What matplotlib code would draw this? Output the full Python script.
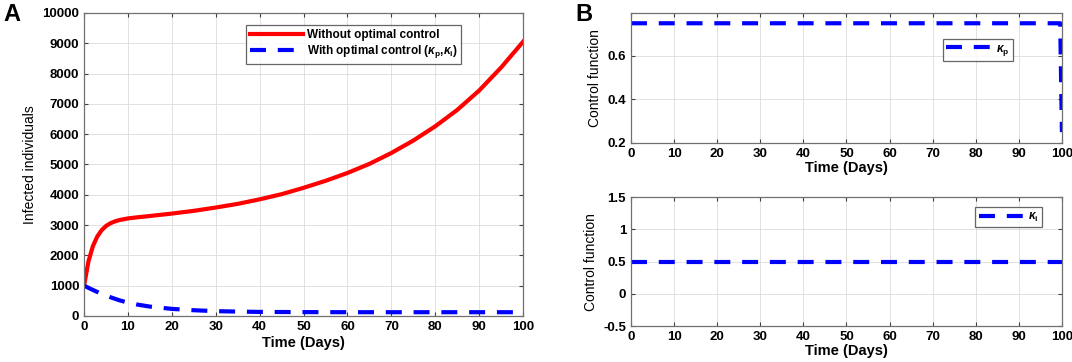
import matplotlib
matplotlib.use("Agg")
import matplotlib.pyplot as plt
import numpy as np

plt.rcParams['font.family'] = ['Liberation Sans', 'DejaVu Sans']
plt.rcParams['mathtext.fontset'] = 'custom'
plt.rcParams['mathtext.it'] = 'Liberation Sans:italic:bold'
plt.rcParams['mathtext.rm'] = 'Liberation Sans:bold'
plt.rcParams['lines.scale_dashes'] = False

# Panel A data
t_a = [0, 1, 2, 3, 4, 5, 6, 7, 8, 10, 12, 15, 20, 25, 30, 35, 40, 45, 50, 55,
       60, 65, 70, 75, 80, 85, 90, 95, 100]
no_control = [1000, 1800, 2300, 2620, 2830, 2970, 3060, 3120, 3165, 3220, 3255,
              3300, 3380, 3470, 3580, 3700, 3850, 4020, 4230, 4460, 4720, 5020,
              5380, 5790, 6260, 6800, 7440, 8200, 9050]
t_b = [0, 2, 4, 6, 8, 10, 12, 15, 20, 25, 30, 35, 40, 50, 60, 70, 80, 90, 100]
with_control = [1000, 860, 730, 620, 520, 440, 380, 310, 235, 190, 160, 145,
                135, 128, 125, 125, 125, 125, 125]

# Panel B data
t_kp = [0, 99.6, 100]
kappa_p = [0.75, 0.75, 0.25]
t_ki = [0, 100]
kappa_i = [0.5, 0.5]

fig = plt.figure(figsize=(10.72, 3.62), dpi=100)

axA = fig.add_axes([0.0784, 0.1271, 0.4095, 0.837])
axB1 = fig.add_axes([0.5886, 0.605, 0.402, 0.359])
axB2 = fig.add_axes([0.5886, 0.0994, 0.402, 0.356])

dash = (0, (11.5, 8.5))
leg_kw = dict(fancybox=False, edgecolor='#404040', borderpad=0.3,
              handletextpad=0.3, borderaxespad=0)

axA.plot(t_a, no_control, color='#ff0000', lw=3.0, label='Without optimal control')
axA.plot(t_b, with_control, color='#0000ff', lw=3.0, linestyle=dash,
         label=r'With optimal control ($\kappa_{\mathrm{p}}$,$\kappa_{\mathrm{i}}$)')
axA.set_xlim(0, 100)
axA.set_ylim(0, 10000)
axA.set_xticks(np.arange(0, 101, 10))
axA.set_yticks(np.arange(0, 10001, 1000))
axA.set_xlabel('Time (Days)', fontsize=10.5, fontweight='bold', labelpad=2)
axA.set_ylabel('Infected individuals', fontsize=10, labelpad=4)
axA.legend(loc='upper left', bbox_to_anchor=(0.37, 0.96),
           prop={'weight': 'bold', 'size': 8.5}, handlelength=4.5,
           labelspacing=0.2, **leg_kw)

axB1.plot(t_kp, kappa_p, color='#0000ff', lw=3.0, linestyle=dash,
          label=r'$\kappa_{\mathrm{p}}$')
axB1.set_xlim(0, 100)
axB1.set_ylim(0.2, 0.797)
axB1.set_yticks([0.2, 0.4, 0.6])
axB1.set_xticks(np.arange(0, 101, 10))
axB1.set_xlabel('Time (Days)', fontsize=10.5, fontweight='bold', labelpad=1)
axB1.set_ylabel('Control function', fontsize=10, labelpad=4)
axB1.legend(loc='upper right', bbox_to_anchor=(0.886, 0.8),
            prop={'weight': 'bold', 'size': 8.5}, handlelength=3.9, **leg_kw)

axB2.plot(t_ki, kappa_i, color='#0000ff', lw=3.0, linestyle=dash,
          label=r'$\kappa_{\mathrm{i}}$')
axB2.set_xlim(0, 100)
axB2.set_ylim(-0.5, 1.5)
axB2.set_yticks([-0.5, 0, 0.5, 1, 1.5])
axB2.set_yticklabels(['-0.5', '0', '0.5', '1', '1.5'])
axB2.set_xticks(np.arange(0, 101, 10))
axB2.set_xlabel('Time (Days)', fontsize=10.5, fontweight='bold', labelpad=1)
axB2.set_ylabel('Control function', fontsize=10, labelpad=4)
axB2.legend(loc='upper right', bbox_to_anchor=(0.954, 0.922),
            prop={'weight': 'bold', 'size': 8.5}, handlelength=3.9, **leg_kw)

for ax in (axA, axB1, axB2):
    ax.grid(True, color='#dcdcdc', lw=0.6)
    ax.set_axisbelow(True)
    ax.tick_params(direction='in', top=True, right=True, length=3, width=0.8,
                   color='#404040', labelsize=9.5)
    for lab in ax.get_xticklabels() + ax.get_yticklabels():
        lab.set_fontweight('bold')
    for sp in ax.spines.values():
        sp.set_color('#707070')
        sp.set_linewidth(0.9)
    ax.get_legend().get_frame().set_linewidth(0.9)

fig.text(0.003, 0.96, 'A', fontsize=17, fontweight='bold', va='center')
fig.text(0.537, 0.96, 'B', fontsize=17, fontweight='bold', va='center')

fig.savefig('out.png', dpi=100)
